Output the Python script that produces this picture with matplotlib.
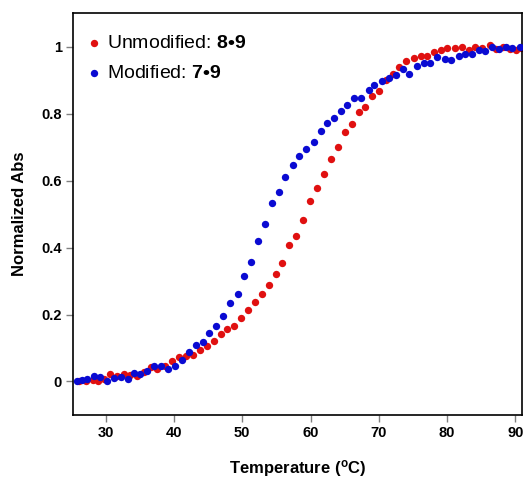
import numpy as np
import matplotlib
matplotlib.use('Agg')
import matplotlib.pyplot as plt
from matplotlib.ticker import FormatStrFormatter

plt.rcParams['font.family'] = ['Liberation Sans', 'DejaVu Sans']
plt.rcParams['mathtext.fontset'] = 'custom'
plt.rcParams['mathtext.rm'] = 'Liberation Sans'
plt.rcParams['mathtext.bf'] = 'Liberation Sans:bold'

# unmodified 8•9 (red)
temp_unmod = [26.05, 27.17, 28.14, 28.87, 29.71, 30.69, 31.65, 32.64, 33.62, 34.58,
              35.61, 36.59, 37.57, 38.68, 39.77, 40.69, 41.72, 42.79, 43.77, 44.79,
              45.86, 46.84, 47.82, 48.79, 49.87, 50.90, 51.87, 52.85, 53.92, 54.94,
              55.88, 56.90, 57.93, 58.90, 59.98, 60.94, 61.97, 62.95, 63.98, 65.05,
              66.07, 67.05, 68.03, 68.96, 70.03, 71.01, 72.03, 73.01, 74.04, 75.11,
              76.13, 77.11, 78.08, 79.16, 80.04, 81.11, 82.18, 83.16, 84.14, 85.17,
              86.24, 87.22, 88.19, 89.17, 90.04, 90.88]
abs_unmod = [0.000, 0.002, 0.005, 0.000, 0.008, 0.022, 0.017, 0.022, 0.018, 0.015,
             0.028, 0.042, 0.036, 0.047, 0.061, 0.072, 0.077, 0.078, 0.094, 0.106,
             0.120, 0.142, 0.157, 0.167, 0.189, 0.212, 0.236, 0.262, 0.289, 0.322,
             0.353, 0.407, 0.434, 0.482, 0.539, 0.579, 0.618, 0.665, 0.701, 0.744,
             0.769, 0.803, 0.820, 0.852, 0.866, 0.899, 0.917, 0.940, 0.957, 0.967,
             0.972, 0.973, 0.985, 0.990, 0.995, 0.995, 0.998, 0.991, 0.998, 0.997,
             1.004, 0.993, 1.000, 0.992, 0.990, 0.995]

# modified 7•9 (blue)
temp_mod = [25.80, 26.53, 27.32, 28.29, 29.12, 30.25, 31.17, 32.30, 33.27, 34.14,
            35.02, 36.11, 37.13, 38.10, 39.12, 40.21, 41.13, 42.26, 43.28, 44.21,
            45.19, 46.21, 47.24, 48.26, 49.33, 50.25, 51.28, 52.36, 53.29, 54.31,
            55.38, 56.32, 57.43, 58.37, 59.39, 60.46, 61.53, 62.47, 63.39, 64.42,
            65.40, 66.42, 67.45, 68.56, 69.35, 70.47, 71.49, 72.52, 73.54, 74.48,
            75.55, 76.58, 77.45, 78.58, 79.65, 80.63, 81.70, 82.58, 83.71, 84.63,
            85.61, 86.58, 87.60, 88.58, 89.46, 90.63]
abs_mod = [0.000, 0.005, 0.008, 0.017, 0.012, 0.000, 0.010, 0.012, 0.008, 0.025,
           0.023, 0.030, 0.045, 0.045, 0.036, 0.046, 0.064, 0.088, 0.108, 0.117,
           0.145, 0.167, 0.195, 0.233, 0.261, 0.315, 0.357, 0.419, 0.470, 0.534,
           0.566, 0.611, 0.646, 0.672, 0.693, 0.715, 0.748, 0.772, 0.786, 0.806,
           0.825, 0.846, 0.847, 0.869, 0.884, 0.898, 0.905, 0.915, 0.934, 0.917,
           0.943, 0.951, 0.950, 0.968, 0.964, 0.960, 0.972, 0.978, 0.979, 0.990,
           0.988, 1.000, 0.993, 0.999, 0.995, 1.000]

x_ticks = [30, 40, 50, 60, 70, 80, 90]
y_ticks = [0, 0.2, 0.4, 0.6, 0.8, 1]

fig = plt.figure(figsize=(5.29, 4.78), dpi=100)
ax = fig.add_axes([0.138, 0.1318, 0.849, 0.841])

ax.scatter(temp_unmod, abs_unmod, s=28, color='#e01010', linewidths=0,
           label=r'Unmodified: $\mathbf{8•9}$', zorder=2)
ax.scatter(temp_mod, abs_mod, s=28, color='#0a0ad2', linewidths=0,
           label=r'Modified: $\mathbf{7•9}$', zorder=3)

ax.set_xlim(25.2, 91.0)
ax.set_ylim(-0.1, 1.1)
ax.set_xticks(x_ticks)
ax.set_yticks(y_ticks)
ax.yaxis.set_major_formatter(FormatStrFormatter('%g'))

for sp in ax.spines.values():
    sp.set_linewidth(1.2)
    sp.set_color('black')
ax.tick_params(direction='out', length=5, width=1, color='#808080',
               labelsize=10.5, pad=3)
for lab in ax.get_xticklabels() + ax.get_yticklabels():
    lab.set_fontweight('bold')

ax.set_xlabel('Temperature ($\\mathregular{^{o}}$C)', fontsize=12,
              fontweight='bold', labelpad=13)
ax.set_ylabel('Normalized Abs', fontsize=12, fontweight='bold', labelpad=10)

ax.legend(loc='upper left', frameon=False, fontsize=14, handlelength=0.8,
          handletextpad=0.25, borderaxespad=0, labelspacing=0.6,
          bbox_to_anchor=(0.012, 0.965))

fig.savefig('out.png', dpi=100)
